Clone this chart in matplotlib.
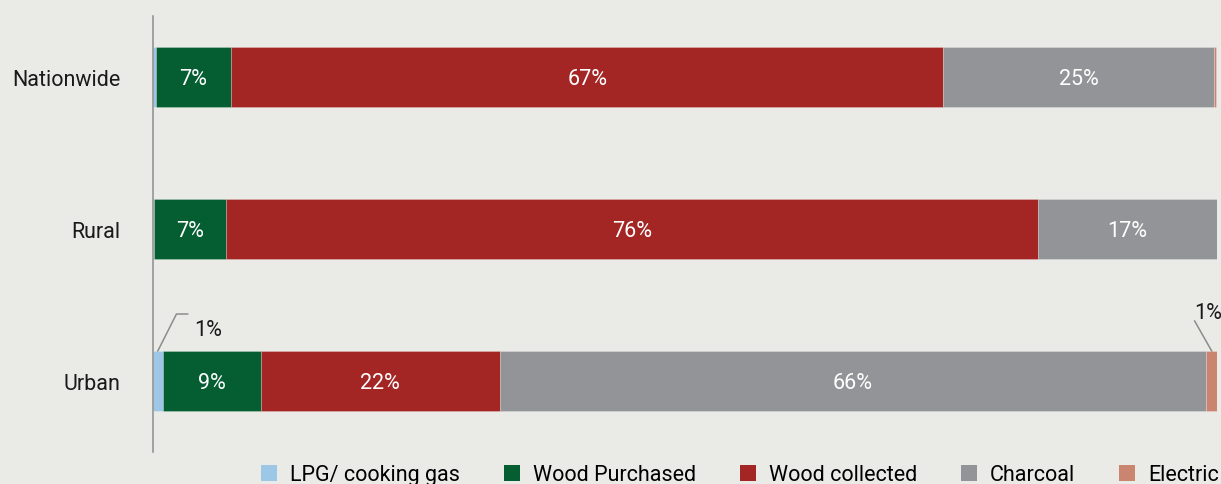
import matplotlib.pyplot as plt
from matplotlib.patches import Patch

plt.rcParams['font.family'] = ['Roboto', 'DejaVu Sans']

# Data (share of households, %)
categories = ['Urban', 'Rural', 'Nationwide']
lpg = [1.0, 0.1, 0.3]
wood_purchased = [9.2, 6.8, 7.1]
wood_collected = [22.4, 76.3, 66.9]
charcoal = [66.4, 16.8, 25.4]
electric = [1.0, 0.1, 0.2]

series_names = ['LPG/ cooking gas', 'Wood Purchased', 'Wood collected', 'Charcoal', 'Electric']
series = [lpg, wood_purchased, wood_collected, charcoal, electric]
colors = ['#9dc7e7', '#045e32', '#a32625', '#939497', '#c9856f']

FS = 15.5
bg = '#eaebe6'
fig = plt.figure(figsize=(12.21, 4.85), dpi=100, facecolor=bg)
ax = fig.add_axes([152.5 / 1221, 1 - 452.5 / 485, (1217 - 152.5) / 1221, (452.5 - 17) / 485])
ax.set_facecolor(bg)

ypos = list(range(len(categories)))
bar_h = 0.395
left = [0.0] * len(categories)
for name, vals, col in zip(series_names, series, colors):
    ax.barh(ypos, vals, left=left, height=bar_h, color=col,
            edgecolor=(1, 1, 1, 0.25), linewidth=0.6)
    for i, v in enumerate(vals):
        if v >= 5:
            ax.text(left[i] + v / 2, ypos[i] - 0.012, f'{round(v)}%', color='white',
                    ha='center', va='center', fontsize=FS)
    left = [l + v for l, v in zip(left, vals)]

# call-outs for small urban shares
top = bar_h / 2
x0 = lpg[0] / 2
ax.plot([x0, x0 + 1.75, x0 + 2.8], [top, top + 0.243, top + 0.243],
        color='#8c8c8c', lw=1.1, clip_on=False)
ax.text(x0 + 3.4, top + 0.14, f'{round(lpg[0])}%', ha='left', va='center',
        fontsize=FS, color='#1a1a1a')

xe = left[0] - electric[0] / 2
ax.plot([xe, xe - 1.6], [top, top + 0.197], color='#8c8c8c', lw=1.1, clip_on=False)
ax.text(xe - 1.6, top + 0.25, f'{round(electric[0])}%', ha='left', va='center',
        fontsize=FS, color='#1a1a1a', clip_on=False)

ax.set_xlim(0, 100)
ax.set_ylim(-0.464, 2.401)
ax.set_yticks(ypos)
ax.set_yticklabels(categories, fontsize=FS, color='#1a1a1a')
ax.tick_params(axis='y', length=0, pad=23)
ax.set_xticks([])
for s in ['top', 'right', 'bottom']:
    ax.spines[s].set_visible(False)
ax.spines['left'].set_color('#8c8c8c')
ax.spines['left'].set_linewidth(1.1)

handles = [Patch(facecolor=c, edgecolor='none') for c in colors]
fig.legend(handles, series_names, loc='center left', ncol=5,
           bbox_to_anchor=(261 / 1221, 1 - 476 / 485), frameon=False,
           fontsize=FS, handlelength=0.74, handleheight=0.74, handletextpad=0.6,
           columnspacing=2.05, borderpad=0, borderaxespad=0)

fig.savefig('out.png', dpi=100, facecolor=bg)
